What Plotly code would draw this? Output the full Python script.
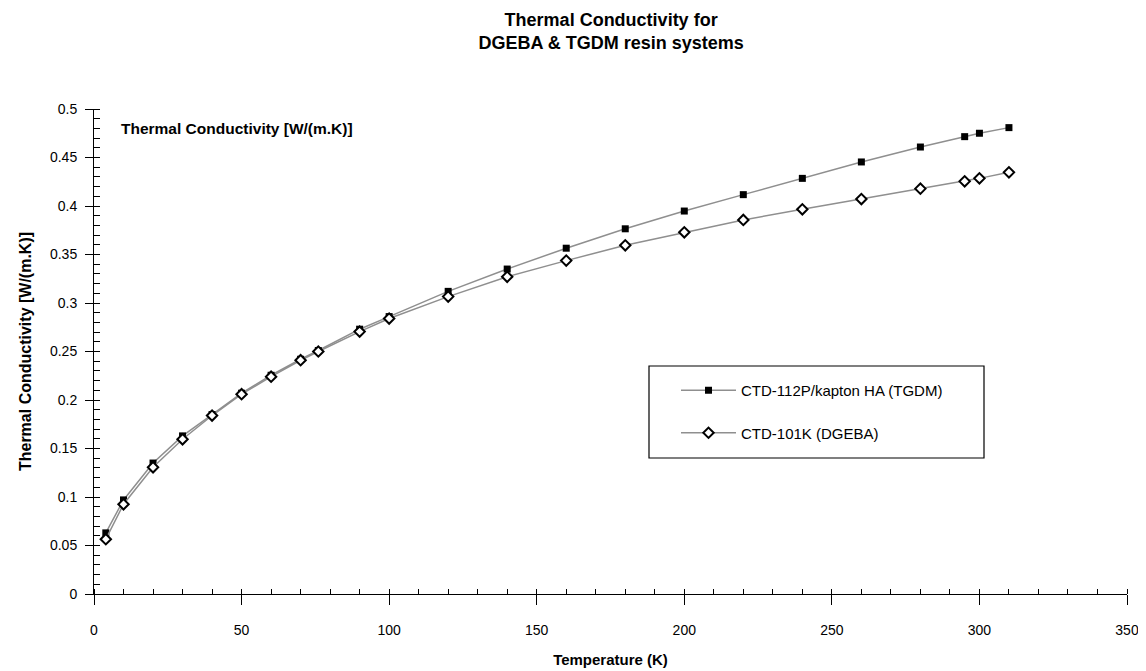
import plotly.graph_objects as go

# Temperature (K)
temperature = [4, 10, 20, 30, 40, 50, 60, 70, 76, 90, 100, 120, 140, 160, 180,
               200, 220, 240, 260, 280, 295, 300, 310]
# CTD-112P/kapton HA (TGDM)
k_tgdm = [0.063, 0.097, 0.135, 0.163, 0.185, 0.207, 0.2255, 0.242, 0.251, 0.273,
          0.286, 0.312, 0.335, 0.3565, 0.3765, 0.3948, 0.4117, 0.4285, 0.4454,
          0.4608, 0.4715, 0.475, 0.4808]
# CTD-101K (DGEBA)
k_dgeba = [0.0565, 0.0925, 0.1306, 0.1595, 0.184, 0.206, 0.224, 0.241, 0.250,
           0.2705, 0.284, 0.3066, 0.327, 0.3437, 0.3595, 0.3729, 0.3856, 0.3966,
           0.4072, 0.4179, 0.4254, 0.4285, 0.4347]

names = ["CTD-112P/kapton HA (TGDM)", "CTD-101K (DGEBA)"]
x_ticks = [0, 50, 100, 150, 200, 250, 300, 350]
y_ticks = [0, 0.05, 0.1, 0.15, 0.2, 0.25, 0.3, 0.35, 0.4, 0.45, 0.5]

FONT = "Arial, Liberation Sans, sans-serif"
LINE = "#8f8f8f"

# the page body adds an 8px margin, so the figure is sized to fill the rest
W, H = 1146 - 8, 671 - 8

fig = go.Figure()
fig.add_trace(go.Scatter(
    x=temperature, y=k_tgdm, name=names[0], mode="lines+markers",
    line=dict(color=LINE, width=1.5),
    marker=dict(symbol="square", size=7, color="black", line=dict(width=0)),
    legendgroup="a"))
fig.add_trace(go.Scatter(
    x=temperature, y=k_dgeba, name=names[1], mode="lines+markers",
    line=dict(color=LINE, width=1.5),
    marker=dict(symbol="diamond", size=8, color="white", line=dict(color="black", width=2)),
    legendgroup="b"))
# helper trace for overlay axes (inner halves of crossing ticks)
fig.add_trace(go.Scatter(x=[], y=[], xaxis="x2", yaxis="y2", showlegend=False, hoverinfo="skip"))

fig.update_layout(
    width=W, height=H,
    margin=dict(l=86, r=19, t=101, b=77, autoexpand=False),
    paper_bgcolor="white", plot_bgcolor="white",
    font=dict(family=FONT, color="black"),
    title=dict(text="<b>Thermal Conductivity for<br>DGEBA &amp; TGDM resin systems</b>",
               x=0.53, xanchor="center", y=1 - 18 / H, yanchor="top",
               font=dict(size=18, family=FONT, color="black")),
    xaxis=dict(range=[0, 350], tickvals=x_ticks, ticks="outside", ticklen=10,
               tickwidth=1, tickcolor="black", showline=True, linecolor="black",
               linewidth=1, showgrid=False, zeroline=False, automargin=False,
               tickfont=dict(size=14, family=FONT), ticklabelstandoff=13,
               minor=dict(dtick=10, ticks="inside", ticklen=5, tickcolor="black", showgrid=False),
               title=dict(text="<b>Temperature (K)</b>", font=dict(size=15, family=FONT), standoff=17)),
    yaxis=dict(range=[0, 0.5], tickvals=y_ticks, ticks="outside", ticklen=8,
               tickwidth=1, tickcolor="black", showline=True, linecolor="black",
               linewidth=1, showgrid=False, zeroline=False, automargin=False,
               tickfont=dict(size=14, family=FONT), ticklabelstandoff=5,
               minor=dict(dtick=0.01, ticks="inside", ticklen=6, tickcolor="black", showgrid=False),
               title=dict(text="<b>Thermal Conductivity [W/(m.K)]</b>",
                          font=dict(size=16, family=FONT), standoff=14)),
    xaxis2=dict(range=[0, 350], overlaying="x", anchor="y2", side="bottom",
                tickvals=x_ticks, ticks="inside", ticklen=5, tickcolor="black",
                showticklabels=False, showgrid=False, zeroline=False, showline=False),
    yaxis2=dict(range=[0, 0.5], overlaying="y", anchor="x2", side="left",
                tickvals=y_ticks, ticks="inside", ticklen=6, tickcolor="black",
                showticklabels=False, showgrid=False, zeroline=False, showline=False),
    showlegend=True,
    legend=dict(x=(676 - 94) / 1033, xanchor="left", y=(594 - 374) / 485, yanchor="top",
                bgcolor="rgba(0,0,0,0)", borderwidth=0, itemwidth=55,
                tracegroupgap=20, font=dict(size=15, family=FONT)),
    shapes=[dict(type="rect", xref="paper", yref="paper",
                 x0=(649 - 94) / 1033, x1=(984 - 94) / 1033,
                 y0=(594 - 458) / 485, y1=(594 - 366) / 485,
                 line=dict(color="black", width=1.2), fillcolor="rgba(0,0,0,0)",
                 layer="below")],
    annotations=[dict(text="<b>Thermal Conductivity [W/(m.K)]</b>", xref="paper", yref="paper",
                      x=(119 - 94) / 1033, y=(594 - 129) / 485, xanchor="left", yanchor="middle",
                      showarrow=False, font=dict(size=15.5, family=FONT, color="black"))],
)

fig.write_html("out.html")
